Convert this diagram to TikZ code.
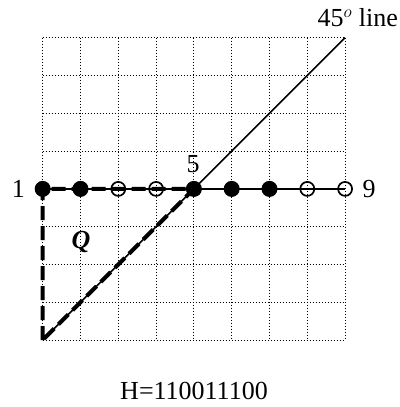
\documentclass[tikz,border=0pt]{standalone}
\usepackage{fontspec}
\setmainfont{Liberation Serif}
\begin{document}
\begin{tikzpicture}[x=1pt,y=-1pt,
  gridline/.style={line width=1.1pt,dash pattern=on 1.1pt off 1.9pt},
  thinline/.style={line width=1.5pt},
  qpath/.style={line width=4pt,dash pattern=on 14pt off 6pt,line join=round},
  full/.style={circle,fill=black,draw=black,line width=1pt,minimum size=15pt,inner sep=0pt},
  empty/.style={circle,draw=black,line width=1.7pt,minimum size=14pt,inner sep=0pt},
  lbl/.style={font=\fontsize{26}{30}\selectfont,inner sep=0pt}]
\useasboundingbox (0,0) rectangle (399,407);
% grid
\foreach \i in {0,...,8} {
  \draw[gridline] (42.7+37.8*\i,37.7) -- (42.7+37.8*\i,340.1);
  \draw[gridline] (42.7,37.7+37.8*\i) -- (345.1,37.7+37.8*\i);
}
\coordinate (corner) at (42.7,340.1);
\coordinate (topright) at (345.1,37.7);
\draw[thinline] (corner) -- (topright);
% points along the row
\foreach \i in {1,...,9} {
  \coordinate (p\i) at (42.7+37.8*\i-37.8,188.9);
}
\draw[line width=1.7pt] (p1) -- (p9);
\draw[qpath] (corner) -- (p1) -- (p5) -- cycle;
\foreach \i/\s in {1/full,2/full,3/empty,4/empty,5/full,6/full,7/full,8/empty,9/empty} {
  \node[\s] (n\i) at (p\i) {};
}
\node[lbl,anchor=base] (l1) at (18.5,197) {1};
\node[lbl,anchor=base] (l9) at (369,197) {9};
\node[lbl,anchor=base] (l5) at (193,172) {5};
\node[lbl,anchor=base] (lq) at (81,248) {\textbf{\textit{Q}}};
\node[lbl,anchor=base east] (l45) at (398,26.5) {45$^{o}$ line};
\node[lbl,anchor=base] (lh) at (194,399) {H=110011100};
\end{tikzpicture}
\end{document}
